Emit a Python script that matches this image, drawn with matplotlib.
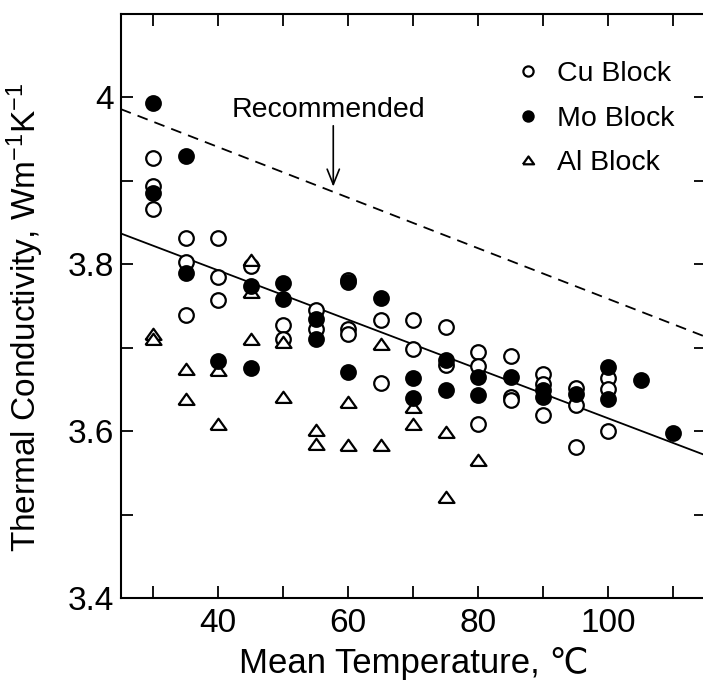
import matplotlib
matplotlib.use("Agg")
import matplotlib.pyplot as plt
from matplotlib.ticker import FixedLocator, FuncFormatter

plt.rcParams['font.family'] = ['Liberation Sans', 'DejaVu Sans']
plt.rcParams['mathtext.fontset'] = 'custom'
plt.rcParams['mathtext.rm'] = 'Liberation Sans'
plt.rcParams['mathtext.it'] = 'Liberation Sans'

# ---- data ----
cu_x = [30, 30, 30, 35, 35, 35, 40, 40, 40, 45, 50, 50, 55, 55, 60, 60, 60,
        65, 65, 70, 70, 75, 75, 80, 80, 80, 85, 85, 85, 90, 90, 90,
        95, 95, 95, 100, 100, 100]
cu_y = [3.927, 3.894, 3.866, 3.832, 3.803, 3.739, 3.832, 3.785, 3.757, 3.798,
        3.727, 3.711, 3.745, 3.722, 3.781, 3.723, 3.717, 3.733, 3.658,
        3.733, 3.699, 3.725, 3.679, 3.695, 3.678, 3.609, 3.690, 3.641, 3.637,
        3.669, 3.657, 3.619, 3.652, 3.631, 3.581, 3.664, 3.650, 3.600]

mo_x = [30, 30, 35, 35, 40, 45, 45, 50, 50, 55, 55, 60, 60, 65, 70, 70,
        75, 75, 80, 80, 85, 90, 90, 95, 100, 100, 105, 110]
mo_y = [3.993, 3.886, 3.930, 3.789, 3.684, 3.774, 3.676, 3.777, 3.758,
        3.734, 3.710, 3.779, 3.671, 3.759, 3.664, 3.640, 3.685, 3.649,
        3.665, 3.643, 3.665, 3.649, 3.641, 3.645, 3.677, 3.638, 3.661, 3.598]

al_x = [30, 30, 35, 35, 40, 40, 45, 45, 45, 50, 50, 55, 55, 60, 60, 65, 65,
        70, 70, 75, 75, 80]
al_y = [3.717, 3.711, 3.675, 3.638, 3.673, 3.609, 3.805, 3.767, 3.711,
        3.707, 3.641, 3.601, 3.585, 3.635, 3.583, 3.705, 3.583, 3.629, 3.609,
        3.599, 3.521, 3.566]

fit_x = [25, 115]
fit_y = [3.837, 3.571]
rec_x = [25, 115]
rec_y = [3.986, 3.713]

x_major = [40, 60, 80, 100]
x_minor = [30, 50, 70, 90, 110]
y_major = [3.4, 3.6, 3.8, 4.0]
y_minor = [3.5, 3.7, 3.9]

# ---- figure ----
fig = plt.figure(figsize=(7.03, 6.92), dpi=100)
ax = fig.add_axes([0.1717, 0.1358, 0.8322, 0.8440])

ax.plot(fit_x, fit_y, color='black', lw=1.3, zorder=2)
ax.plot(rec_x, rec_y, color='black', lw=1.3, linestyle=(0, (6, 4)), zorder=2)

tri = [(-1, -0.68), (1, -0.68), (0, 0.72), (-1, -0.68)]
ms = 10.5
ax.plot(cu_x, cu_y, linestyle='none', marker='o', ms=ms, mfc='white',
        mec='black', mew=1.6, label='Cu Block', zorder=3)
ax.plot(al_x, al_y, linestyle='none', marker=tri, ms=ms + 1, mfc='white',
        mec='black', mew=1.6, label='Al Block', zorder=4)
ax.plot(mo_x, mo_y, linestyle='none', marker='o', ms=ms, mfc='black',
        mec='black', mew=1.6, label='Mo Block', zorder=5)

ax.text(56.9, 3.985, 'Recommended', fontsize=20.5, ha='center', va='center')
ax.annotate('', xy=(57.7, 3.893), xytext=(57.7, 3.966),
            arrowprops=dict(arrowstyle='->,head_length=0.55,head_width=0.22',
                            color='black', lw=1.2, mutation_scale=20,
                            shrinkA=0, shrinkB=0))

ax.set_xlim(25, 115)
ax.set_ylim(3.4, 4.1)
ax.xaxis.set_major_locator(FixedLocator(x_major))
ax.xaxis.set_minor_locator(FixedLocator(x_minor))
ax.yaxis.set_major_locator(FixedLocator(y_major))
ax.yaxis.set_minor_locator(FixedLocator(y_minor))
ax.yaxis.set_major_formatter(FuncFormatter(lambda v, p: '4' if abs(v - 4) < 1e-9 else f'{v:.1f}'))

ax.tick_params(which='both', direction='in', top=True, right=True,
               length=8.6, width=1.3, labelsize=24)
ax.tick_params(axis='x', pad=7)
ax.tick_params(axis='y', pad=5)
for s in ax.spines.values():
    s.set_linewidth(1.5)

ax.set_xlabel('Mean Temperature, \u2103', fontsize=25, labelpad=6)
ax.set_ylabel('Thermal Conductivity, Wm$^{-1}$K$^{-1}$', fontsize=24)
ax.yaxis.set_label_coords(-0.128, 0.48)

handles, labels = ax.get_legend_handles_labels()
order = [0, 2, 1]
leg = ax.legend([handles[i] for i in order], [labels[i] for i in order],
                loc='center left', bbox_to_anchor=(0.672, 0.821),
                frameon=False, fontsize=20.5, markerscale=0.7,
                handlelength=1.0, handletextpad=0.5, labelspacing=0.65,
                borderpad=0, borderaxespad=0)

fig.savefig('out.png', dpi=100)
